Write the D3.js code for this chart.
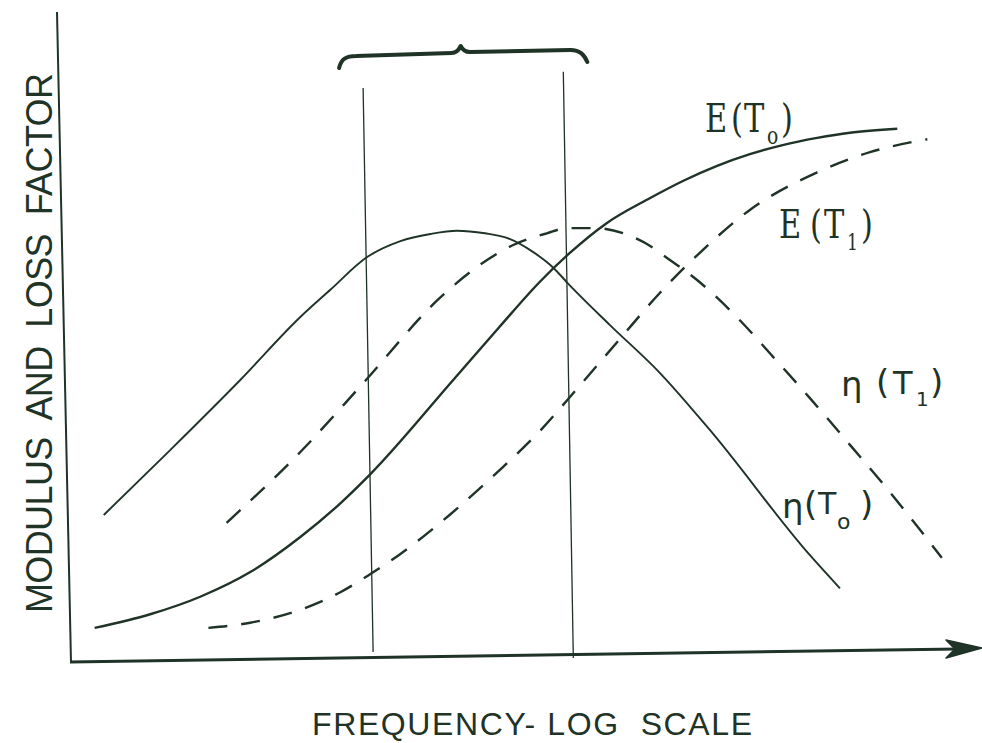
<!DOCTYPE html>
<html>
<head>
<meta charset="utf-8">
<script src="https://cdn.jsdelivr.net/npm/d3@7/dist/d3.min.js"></script>
<style>
  html, body { margin: 0; padding: 0; background: #ffffff; }
  svg { display: block; }
  .lbl-axis { font-family: "Liberation Sans", Arial, sans-serif; fill: #1f3327; white-space: pre; }
  .lbl-type { font-family: "DejaVu Serif", "Liberation Serif", serif; fill: #1f3327; }
  .lbl-hand { font-family: "DejaVu Sans", "Noto Sans", sans-serif; fill: #1f3327; }
</style>
</head>
<body>
<div id="chart"></div>
<script>
// Schematic: storage modulus E and loss factor η versus log frequency
// at two temperatures T0 and T1 (T1 curves shifted to higher frequency).

// x = log-frequency (arbitrary units 0..10), y = modulus / loss factor (arbitrary 0..10)
const E_T0_x   = [0.26, 0.87, 1.42, 1.97, 2.52, 2.96, 3.29, 4.20, 4.71, 5.15, 5.46, 5.89, 6.36, 6.73, 7.10, 7.46, 7.82, 8.20, 8.56, 9.08];
const E_T0_y   = [0.51, 0.72, 0.99, 1.37, 1.91, 2.43, 2.88, 4.33, 5.15, 5.84, 6.26, 6.75, 7.13, 7.40, 7.63, 7.81, 7.95, 8.06, 8.14, 8.20];

const E_T1_x   = [1.51, 1.97, 2.52, 2.96, 3.29, 3.62, 4.16, 4.71, 5.15, 5.57, 6.03, 6.47, 6.91, 7.46, 8.20, 8.78, 9.41];
const E_T1_y   = [0.51, 0.59, 0.79, 1.06, 1.34, 1.65, 2.25, 2.94, 3.54, 4.21, 4.96, 5.67, 6.29, 6.95, 7.53, 7.84, 8.04];

const eta_T0_x = [0.36, 1.09, 1.86, 2.52, 2.85, 3.25, 3.62, 3.95, 4.24, 4.55, 4.79, 5.08, 5.30, 5.46, 5.92, 6.47, 7.02, 8.12, 8.45];
const eta_T0_y = [2.25, 3.25, 4.33, 5.30, 5.72, 6.22, 6.47, 6.58, 6.63, 6.59, 6.52, 6.30, 6.06, 5.82, 5.18, 4.44, 3.56, 1.63, 1.12];

const eta_T1_x = [1.71, 2.52, 3.21, 4.05, 4.49, 4.86, 5.23, 5.45, 5.76, 6.07, 6.31, 6.55, 6.88, 7.35, 7.70, 8.12, 8.56, 9.00, 9.57];
const eta_T1_y = [2.13, 3.22, 4.28, 5.59, 6.10, 6.41, 6.59, 6.67, 6.67, 6.59, 6.44, 6.21, 5.87, 5.25, 4.71, 4.05, 3.33, 2.60, 1.59];

// frequency window marked by the two verticals and the brace
const windowX   = [3.32, 5.52];
const windowTop = [8.83, 9.08];

const xTitle = "FREQUENCY- LOG  SCALE";
const yTitle = "MODULUS  AND  LOSS  FACTOR";

const W = 982, H = 743;
const INK = "#1f3327";

const svg = d3.select("#chart").append("svg")
  .attr("width", W).attr("height", H)
  .attr("viewBox", `0 0 ${W} ${H}`);

const x = d3.scaleLinear().domain([0, 10]).range([71, 981]);
const y = d3.scaleLinear().domain([0, 10]).range([661, 12]);

const zip = (xs, ys) => xs.map((v, i) => [v, ys[i]]);
const line = d3.line()
  .x(d => x(d[0])).y(d => y(d[1]))
  .curve(d3.curveMonotoneX);

// axes (hand-drawn: y axis leans slightly, x axis rises slightly to the arrow)
svg.append("line")
  .attr("x1", x(0) - 14).attr("y1", y(10))
  .attr("x2", x(0)).attr("y2", y(0) + 1)
  .attr("stroke", INK).attr("stroke-width", 2);
svg.append("line")
  .attr("x1", x(0) - 1).attr("y1", y(0) + 1)
  .attr("x2", 958).attr("y2", 649)
  .attr("stroke", INK).attr("stroke-width", 3);
svg.append("path")
  .attr("d", "M982,648 L946,640 L955,649 L946,658 Z")
  .attr("fill", INK).attr("stroke", INK).attr("stroke-width", 1.5)
  .attr("stroke-linejoin", "round");

// frequency window verticals
windowX.forEach((wx, i) => {
  svg.append("line")
    .attr("x1", x(wx) - 10).attr("y1", y(windowTop[i]))
    .attr("x2", x(wx)).attr("y2", i === 0 ? 652 : 658)
    .attr("stroke", INK).attr("stroke-width", 1.3);
});

// brace over the window
{
  const L = x(windowX[0]) - 34, R = x(windowX[1]) + 13, M = (L + R) / 2 - 2;
  const p = d3.path();
  p.moveTo(L, 68);
  p.bezierCurveTo(L + 2, 59, L + 7, 56, L + 17, 56);
  p.lineTo(M - 9, 53);
  p.bezierCurveTo(M - 4, 53, M - 2, 50, M, 46);
  p.bezierCurveTo(M + 2, 50, M + 4, 52, M + 9, 52);
  p.lineTo(R - 16, 50);
  p.bezierCurveTo(R - 6, 50, R - 2, 55, R + 1, 62);
  svg.append("path").attr("d", p.toString())
    .attr("fill", "none").attr("stroke", INK)
    .attr("stroke-width", 4).attr("stroke-linecap", "round").attr("stroke-linejoin", "round");
}

// curves
const curves = [
  { pts: zip(E_T0_x, E_T0_y),     w: 2.4, dash: null },
  { pts: zip(eta_T0_x, eta_T0_y), w: 1.9, dash: null },
  { pts: zip(E_T1_x, E_T1_y),     w: 2.4, dash: "19,14" },
  { pts: zip(eta_T1_x, eta_T1_y), w: 2.4, dash: "19,14" }
];
curves.forEach(c => {
  svg.append("path").attr("d", line(c.pts))
    .attr("fill", "none").attr("stroke", INK)
    .attr("stroke-width", c.w)
    .attr("stroke-dasharray", c.dash)
    .attr("stroke-linecap", "butt");
});

// curve labels: one text per label, horizontally condensed by sx,
// parts given at page positions
function curveLabel(cls, ox, oy, sx, parts) {
  const t = svg.append("text").attr("class", cls)
    .attr("transform", `translate(${ox},${oy}) scale(${sx},1)`);
  parts.forEach(p => {
    t.append("tspan")
      .attr("x", (p.x - ox) / sx).attr("y", p.y - oy)
      .attr("font-size", p.s).text(p.t);
  });
}
curveLabel("lbl-type", 705, 132, 0.78, [
  { t: "E", x: 705, y: 132, s: 39 },
  { t: "(", x: 731, y: 132, s: 39 },
  { t: "T", x: 744, y: 132, s: 39 },
  { t: "o", x: 767, y: 144, s: 24 },
  { t: ")", x: 781, y: 132, s: 39 }
]);
curveLabel("lbl-type", 779, 238, 0.78, [
  { t: "E", x: 779, y: 238, s: 39 },
  { t: "(", x: 810, y: 238, s: 39 },
  { t: "T", x: 824, y: 238, s: 39 },
  { t: "1", x: 847, y: 250, s: 22 },
  { t: ")", x: 861, y: 238, s: 39 }
]);
curveLabel("lbl-hand", 841, 396, 1, [
  { t: "η", x: 841, y: 396, s: 34 },
  { t: "(", x: 876, y: 394, s: 34 },
  { t: "T", x: 893, y: 394, s: 32 },
  { t: "1", x: 916, y: 406, s: 20 },
  { t: ")", x: 930, y: 394, s: 34 }
]);
curveLabel("lbl-hand", 782, 518, 1, [
  { t: "η", x: 782, y: 518, s: 34 },
  { t: "(", x: 804, y: 516, s: 34 },
  { t: "T", x: 818, y: 514, s: 30 },
  { t: "o", x: 837, y: 529, s: 22 },
  { t: ")", x: 860, y: 516, s: 34 }
]);

// axis titles
svg.append("text").attr("class", "lbl-axis")
  .attr("x", 312).attr("y", 735)
  .attr("font-size", 32)
  .attr("textLength", 440).attr("lengthAdjust", "spacing")
  .text(xTitle);

svg.append("text").attr("class", "lbl-axis")
  .attr("transform", "translate(52,613) rotate(-90)")
  .attr("x", 0).attr("y", 0)
  .attr("font-size", 36)
  .attr("textLength", 540).attr("lengthAdjust", "spacing")
  .text(yTitle);
</script>
</body>
</html>
